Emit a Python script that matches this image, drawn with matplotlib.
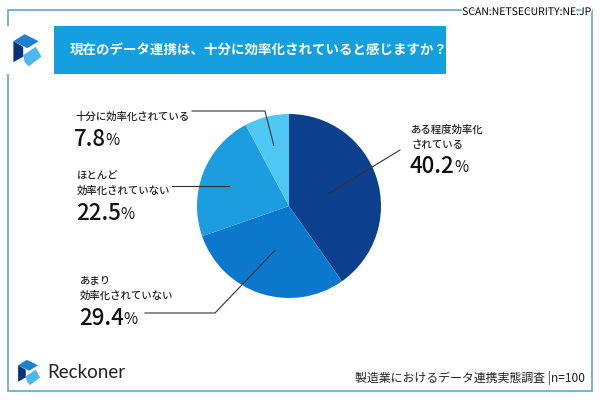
import matplotlib.pyplot as plt
import matplotlib.patheffects as pe
from matplotlib.patches import Rectangle, Polygon
import numpy as np

plt.rcParams['font.family'] = ['Noto Sans CJK JP', 'DejaVu Sans']

# データ
labels = ['ある程度効率化\nされている', 'あまり\n効率化されていない',
          'ほとんど\n効率化されていない', '十分に効率化されている']
values = [40.2, 29.4, 22.5, 7.8]
colors = ['#0c3f8c', '#0b78cc', '#1c9de0', '#4ec8f3']
title = '現在のデータ連携は、十分に効率化されていると感じますか？'
source = '製造業におけるデータ連携実態調査 |n=100'

W, H = 600, 401
fig = plt.figure(figsize=(6, 4.01), dpi=100)
ax = fig.add_axes([0, 0, 1, 1])


def Y(y):
    # image y (from top) -> data y
    return H - y


# 枠
ax.add_patch(Rectangle((8, Y(391)), 584, 381, fill=False, ec='#6ab0cc', lw=1.3))

# タイトルバー
ax.add_patch(Rectangle((0, Y(74)), 446, 48, fc='#169fde', ec='none'))
ax.add_patch(Rectangle((0, Y(74)), 54, 48, fc='white', ec='none'))
ax.text(70, Y(50), title, color='white', fontsize=9.7, fontweight='bold',
        va='center', ha='left')


def logo(cx, cy, s):
    # ロゴ (簡易)
    pts = {
        '#1f7fd0': [(-9, -7), (-1, -12), (9, -7), (1, -2)],
        '#0a3278': [(-9, -7), (-9, 8), (-2, 4), (-2, -3)],
        '#4cb8ee': [(-2, 3), (7, -3), (11, 4), (2, 11), (-1, 8)],
    }
    for c, p in pts.items():
        ax.add_patch(Polygon([(cx + s * x, Y(cy + s * y)) for x, y in p],
                             closed=True, fc=c, ec='none'))


logo(26, 51, 1.4)
logo(28, 373, 1.1)

# 円グラフ
cx, cy, R = 289, 206, 92
wedges, _ = ax.pie(values, colors=colors, startangle=90, counterclock=False,
                   center=(cx, Y(cy)), radius=R, frame=True,
                   wedgeprops=dict(linewidth=0))

# ラベル位置
label_pos = [(411, 126), (80, 277), (77, 172), (75, 113)]
inner = [0.46, 0.51, 0.70, 0.68]
elbow = [None, (215, 313), None, (265, 111)]
line_start = [(400, 150), (145, 313), (172, 186), (192, 111)]

for i, w in enumerate(wedges):
    ang = np.deg2rad((w.theta1 + w.theta2) / 2)
    ex = cx + inner[i] * R * np.cos(ang)
    ey = Y(cy) + inner[i] * R * np.sin(ang)
    sx, sy = line_start[i]
    if elbow[i] is not None:
        xs = [sx, elbow[i][0], ex]
        ys = [Y(sy), Y(elbow[i][1]), ey]
    elif i == 2:
        xs, ys = [sx, ex], [Y(sy), Y(sy)]
    else:
        xs, ys = [sx, ex], [Y(sy), ey]
    ax.plot(xs, ys, color='#333333', lw=0.8)

    lx, ly = label_pos[i]
    nl = labels[i].count('\n') + 1
    ax.text(lx, Y(ly - 1), labels[i], fontsize=7.5, color='#222222',
            fontweight='medium', va='top', ha='left', linespacing=1.55)
    ny = ly + 15 * (nl - 1) + 14 + (1 if i else 0)
    num = ax.text(lx - 1, Y(ny), f'{values[i]}', fontsize=16,
                  fontweight='medium', color='#111111', va='top', ha='left')
    ax.annotate('%', xy=(1, 0.1), xycoords=num, fontsize=11,
                color='#111111', va='bottom', ha='left',
                xytext=(-0.5, 0), textcoords='offset points')

# フッター
ax.text(47, Y(372), 'Reckoner', fontsize=13.5, color='#222222',
        va='center', ha='left', family=['Lato', 'DejaVu Sans'])
ax.text(585, Y(378), source, fontsize=8.6, color='#222222',
        va='center', ha='right')

# 透かし
ax.text(591, Y(12), 'SCAN.NETSECURITY.NE.JP', fontsize=7.5, color='black',
        va='center', ha='right',
        path_effects=[pe.withStroke(linewidth=2, foreground='white')])

ax.set_xlim(0, W)
ax.set_ylim(0, H)
ax.set_aspect('equal')
ax.axis('off')

fig.savefig('out.png', dpi=100, facecolor='white')
